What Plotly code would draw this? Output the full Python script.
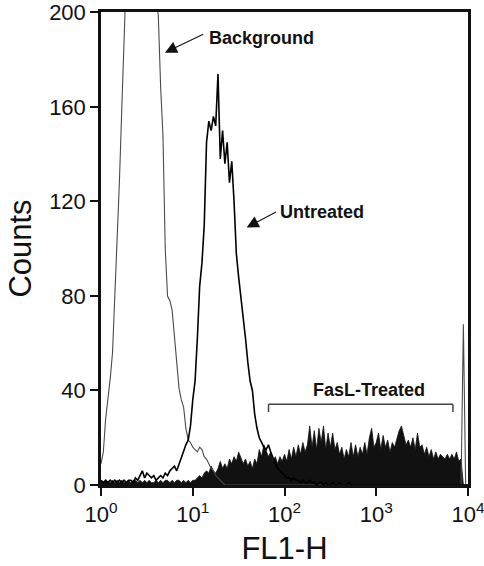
import numpy as np
import plotly.graph_objects as go

# Channel positions in decades (log10 of FL1-H), 161 channels spanning 10^0 .. 10^4
channel_decade = np.round(np.arange(161) * 0.025, 3)
fl1 = 10 ** channel_decade

# Counts
background = [
    9, 14, 28, 36, 45, 56, 80, 100, 128, 158,
    190, 225, 265, 300, 330, 350, 360, 355, 340, 320,
    290, 265, 245, 225, 208, 198, 168, 148, 100, 80,
    78, 74, 62, 50, 41, 36, 33, 24, 19, 18,
    16, 15, 14, 16, 15, 12, 11, 9, 7, 6,
    4, 3, 2, 1, 0, 0, 0, 0, 0, 0,
    0, 0, 0, 0, 0, 0, 0, 0, 0, 0,
    0, 0, 0, 0, 0, 0, 0, 0, 0, 0,
    0, 0, 0, 0, 0, 0, 0, 0, 0, 0,
    0, 0, 0, 0, 0, 0, 0, 0, 0, 0,
    0, 0, 0, 0, 0, 0, 0, 0, 0, 0,
    0, 0, 0, 0, 0, 0, 0, 0, 0, 0,
    0, 0, 0, 0, 0, 0, 0, 0, 0, 0,
    0, 0, 0, 0, 0, 0, 0, 0, 0, 0,
    0, 0, 0, 0, 0, 0, 0, 0, 0, 0,
    0, 0, 0, 0, 0, 0, 0, 0, 68, 0,
    0,
]

untreated = [
    2, 1, 2, 1, 2, 1, 2, 1, 2, 1,
    2, 1, 2, 2, 1, 3, 2, 4, 6, 3,
    5, 4, 3, 4, 2, 3, 4, 3, 5, 4,
    6, 7, 8, 6, 9, 11, 14, 17, 19, 25,
    36, 44, 62, 84, 94, 110, 145, 154, 150, 156,
    152, 174, 138, 150, 136, 145, 128, 137, 120, 98,
    88, 80, 70, 62, 52, 44, 40, 30, 24, 20,
    18, 16, 15, 17, 14, 11, 9, 7, 6, 5,
    4, 3, 3, 2, 3, 2, 2, 1, 2, 1,
    1, 2, 1, 1, 0, 1, 1, 0, 1, 0,
    0, 1, 0, 0, 1, 0, 0, 0, 1, 0,
    0, 0, 0, 0, 0, 0, 0, 0, 0, 0,
    0, 0, 0, 0, 0, 0, 0, 0, 0, 0,
    0, 0, 0, 0, 0, 0, 0, 0, 0, 0,
    0, 0, 0, 0, 0, 0, 0, 0, 0, 0,
    0, 0, 0, 0, 0, 0, 0, 0, 0, 0,
    0,
]

fasl_treated = [
    2, 1, 2, 1, 1, 2, 1, 2, 1, 2,
    1, 1, 2, 1, 2, 2, 1, 2, 1, 2,
    1, 2, 1, 1, 2, 1, 2, 1, 2, 2,
    1, 2, 1, 2, 2, 1, 2, 1, 2, 1,
    2, 2, 3, 4, 3, 5, 6, 5, 8, 6,
    5, 7, 10, 7, 9, 7, 11, 9, 12, 10,
    14, 11, 9, 11, 8, 10, 7, 11, 9, 15,
    12, 17, 14, 12, 14, 10, 12, 9, 12, 10,
    13, 10, 15, 11, 16, 12, 17, 13, 18, 14,
    17, 25, 16, 23, 15, 24, 18, 25, 15, 22,
    16, 22, 15, 18, 13, 16, 11, 15, 12, 18,
    12, 17, 12, 16, 13, 18, 13, 20, 24, 16,
    18, 22, 15, 21, 16, 19, 14, 18, 16, 20,
    23, 25, 21, 17, 19, 16, 20, 15, 22, 16,
    17, 13, 16, 12, 15, 11, 14, 11, 13, 12,
    11, 13, 11, 13, 11, 14, 10, 11, 0, 0,
    0,
]

x_tickvals = [1, 10, 100, 1000, 10000]
x_ticktext = ["10<sup>0</sup>", "10<sup>1</sup>", "10<sup>2</sup>", "10<sup>3</sup>", "10<sup>4</sup>"]
y_tickvals = [0, 40, 80, 120, 160, 200]

FONT = "Liberation Sans, Arial, Helvetica, sans-serif"
INK = "#111111"

fig = go.Figure()
fig.add_trace(go.Scatter(
    x=fl1, y=fasl_treated, mode="lines", name="FasL-Treated",
    line=dict(color=INK, width=0.8), fill="tozeroy", fillcolor=INK,
))
fig.add_trace(go.Scatter(
    x=fl1, y=background, mode="lines", name="Background",
    line=dict(color="#4a4a4a", width=1.1),
))
fig.add_trace(go.Scatter(
    x=fl1, y=untreated, mode="lines", name="Untreated",
    line=dict(color="#000000", width=1.6),
))

axis_common = dict(
    showline=True, linewidth=2.5, linecolor=INK, mirror=True,
    ticks="outside", ticklen=8, tickwidth=2, tickcolor=INK,
    showgrid=False, zeroline=False, automargin=False,
    tickfont=dict(family=FONT, size=22, color=INK),
)

fig.update_layout(
    width=484, height=566,
    margin=dict(l=101, r=16, t=12, b=81),
    paper_bgcolor="white", plot_bgcolor="white",
    showlegend=False,
    font=dict(family=FONT, color=INK),
    xaxis=dict(
        type="log", range=[-0.0005, 4.0005],
        tickvals=x_tickvals, ticktext=x_ticktext, ticklabeloverflow="allow",
        title=dict(text="FL1-H", font=dict(family=FONT, size=31, color=INK), standoff=23),
        **axis_common,
    ),
    yaxis=dict(
        range=[0, 200.2], tickvals=y_tickvals, ticklabeloverflow="allow",
        title=dict(text="Counts", font=dict(family=FONT, size=31, color=INK), standoff=9),
        **axis_common,
    ),
)

# arrows (head at x/y, tail at ax/ay in data coords; log axis uses log10 values)
for hx, hy, tx, ty in [(0.696, 183, 1.130, 191.1), (1.587, 109, 1.924, 115.9)]:
    fig.add_annotation(
        x=hx, y=hy, ax=tx, ay=ty, axref="x", ayref="y", xref="x", yref="y",
        text="", showarrow=True, arrowhead=2, arrowsize=2.2, arrowwidth=1.1,
        arrowcolor=INK,
    )

for txt, tx, ty in [("Background", 1.747, 189.4), ("Untreated", 2.408, 115.4),
                    ("FasL-Treated", 2.924, 40.2)]:
    fig.add_annotation(
        x=tx, y=ty, xref="x", yref="y", text="<b>%s</b>" % txt, showarrow=False,
        xanchor="center", yanchor="middle",
        font=dict(family=FONT, size=18, color=INK),
    )

# bracket under FasL-Treated
bx0, bx1, by, byt = 0.4565, 0.959, 34.2, 30.9
line_style = dict(color="#444444", width=1.5)
fig.add_shape(type="line", xref="paper", yref="y", x0=bx0, x1=bx1, y0=by, y1=by, line=line_style)
fig.add_shape(type="line", xref="paper", yref="y", x0=bx0, x1=bx0, y0=by, y1=byt, line=line_style)
fig.add_shape(type="line", xref="paper", yref="y", x0=bx1, x1=bx1, y0=by, y1=byt, line=line_style)

fig.write_html("out.html", config={"displayModeBar": False},
               post_script="document.body.style.margin='0';")
